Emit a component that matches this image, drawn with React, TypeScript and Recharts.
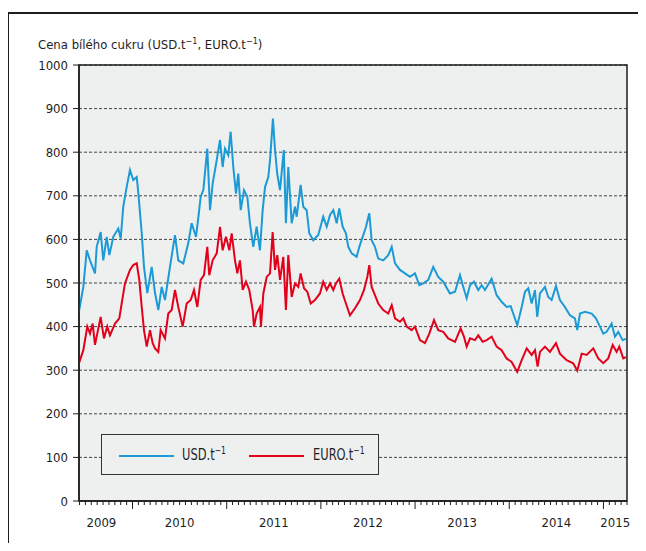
import { LineChart, Line, XAxis, YAxis, CartesianGrid, ReferenceArea, Legend } from "recharts"

const FONT = '"Liberation Sans Narrow", "Arial Narrow", "DejaVu Sans Condensed", "Liberation Sans", Arial, sans-serif'
const INK = "#1e1e1e"
const BLUE = "#1b9ad6"
const RED = "#e3001b"
const PLOT_BG = "#eef0f0"

const X_MIN = 2009.432
const X_MAX = 2015.25
const Y_TICKS = [0, 100, 200, 300, 400, 500, 600, 700, 800, 900, 1000]
const YEAR_LABELS = ["2009", "2010", "2011", "2012", "2013", "2014", "2015"]
const YEAR_LABEL_POS = [2009.67, 2010.5, 2011.5, 2012.5, 2013.5, 2014.5, 2015.125]
const TICKS_PER_YEAR = 16
const SERIES_NAMES = ["USD.t", "EURO.t"]

// USD.t-1, time in fractional years
const USD_T = [
  2009.432, 2009.478, 2009.514, 2009.549, 2009.602, 2009.62, 2009.662, 2009.69, 2009.726, 2009.754,
  2009.796, 2009.849, 2009.875, 2009.902, 2009.938, 2009.973, 2010.008, 2010.045, 2010.062, 2010.098,
  2010.122, 2010.157, 2010.204, 2010.239, 2010.274, 2010.31, 2010.345, 2010.398, 2010.451, 2010.486,
  2010.539, 2010.592, 2010.628, 2010.674, 2010.698, 2010.724, 2010.752, 2010.794, 2010.823, 2010.851,
  2010.894, 2010.929, 2010.957, 2010.982, 2011.017, 2011.042, 2011.07, 2011.099, 2011.123, 2011.149,
  2011.184, 2011.219, 2011.247, 2011.282, 2011.318, 2011.353, 2011.382, 2011.407, 2011.442, 2011.46,
  2011.491, 2011.513, 2011.537, 2011.566, 2011.606, 2011.629, 2011.654, 2011.69, 2011.725, 2011.743,
  2011.785, 2011.813, 2011.849, 2011.877, 2011.919, 2011.972, 2012.025, 2012.062, 2012.097, 2012.132,
  2012.168, 2012.195, 2012.231, 2012.266, 2012.291, 2012.327, 2012.38, 2012.408, 2012.444, 2012.479,
  2012.514, 2012.539, 2012.574, 2012.609, 2012.662, 2012.715, 2012.752, 2012.787, 2012.84, 2012.893,
  2012.946, 2012.999, 2013.045, 2013.087, 2013.14, 2013.193, 2013.246, 2013.299, 2013.37, 2013.424,
  2013.477, 2013.512, 2013.548, 2013.583, 2013.625, 2013.671, 2013.707, 2013.742, 2013.813, 2013.866,
  2013.919, 2013.972, 2014.015, 2014.042, 2014.085, 2014.132, 2014.167, 2014.202, 2014.238, 2014.273,
  2014.297, 2014.326, 2014.379, 2014.414, 2014.45, 2014.496, 2014.538, 2014.591, 2014.644, 2014.697,
  2014.722, 2014.751, 2014.804, 2014.875, 2014.92, 2014.963, 2014.998, 2015.034, 2015.087, 2015.122,
  2015.157, 2015.204, 2015.239,
]
const USD_V = [
  435, 491, 575, 552, 522, 583, 617, 552, 606, 564,
  606, 625, 602, 675, 720, 759, 736, 743, 706, 614,
  537, 477, 537, 477, 438, 491, 461, 537, 610, 552,
  545, 591, 637, 606, 648, 698, 713, 808, 667, 728,
  782, 828, 766, 808, 793, 847, 766, 705, 751, 667,
  713, 698, 637, 583, 629, 575, 667, 720, 743, 782,
  877, 805, 750, 713, 805, 637, 766, 637, 675, 652,
  725, 675, 667, 614, 598, 610, 652, 629, 656, 667,
  637, 671, 629, 614, 583, 568, 560, 583, 606, 629,
  660, 598, 583, 556, 552, 564, 583, 545, 530, 522,
  514, 522, 495, 499, 507, 537, 514, 503, 476, 480,
  518, 491, 465, 495, 503, 484, 495, 484, 510, 472,
  457, 445, 447, 430, 403, 445, 480, 488, 453, 484,
  422, 476, 491, 468, 461, 493, 461, 445, 426, 419,
  392, 430, 434, 430, 419, 400, 384, 388, 407, 377,
  388, 369, 372,
]

// EURO.t-1
const EUR_T = [
  2009.432, 2009.478, 2009.52, 2009.549, 2009.577, 2009.602, 2009.626, 2009.662, 2009.697, 2009.732,
  2009.761, 2009.814, 2009.86, 2009.885, 2009.92, 2009.973, 2010.008, 2010.045, 2010.072, 2010.098,
  2010.122, 2010.151, 2010.186, 2010.214, 2010.239, 2010.274, 2010.299, 2010.345, 2010.38, 2010.416,
  2010.451, 2010.486, 2010.533, 2010.575, 2010.618, 2010.653, 2010.688, 2010.724, 2010.759, 2010.794,
  2010.815, 2010.851, 2010.894, 2010.929, 2010.957, 2010.993, 2011.028, 2011.053, 2011.088, 2011.113,
  2011.141, 2011.17, 2011.205, 2011.24, 2011.276, 2011.29, 2011.318, 2011.353, 2011.364, 2011.389,
  2011.425, 2011.46, 2011.488, 2011.513, 2011.537, 2011.566, 2011.601, 2011.629, 2011.654, 2011.69,
  2011.725, 2011.76, 2011.785, 2011.821, 2011.856, 2011.892, 2011.937, 2011.99, 2012.025, 2012.062,
  2012.097, 2012.132, 2012.16, 2012.195, 2012.231, 2012.266, 2012.309, 2012.362, 2012.415, 2012.458,
  2012.493, 2012.514, 2012.539, 2012.574, 2012.609, 2012.662, 2012.715, 2012.752, 2012.787, 2012.84,
  2012.875, 2012.911, 2012.964, 2012.999, 2013.052, 2013.105, 2013.151, 2013.201, 2013.246, 2013.299,
  2013.352, 2013.424, 2013.484, 2013.519, 2013.548, 2013.583, 2013.636, 2013.671, 2013.718, 2013.76,
  2013.813, 2013.866, 2013.919, 2013.972, 2014.025, 2014.085, 2014.132, 2014.185, 2014.238, 2014.273,
  2014.301, 2014.326, 2014.379, 2014.432, 2014.496, 2014.538, 2014.609, 2014.679, 2014.722, 2014.769,
  2014.822, 2014.892, 2014.945, 2014.998, 2015.051, 2015.098, 2015.14, 2015.168, 2015.21, 2015.239,
]
const EUR_V = [
  316, 346, 400, 384, 407, 358, 384, 422, 373, 400,
  380, 407, 419, 453, 499, 530, 541, 545, 507, 445,
  392, 354, 392, 362, 350, 342, 392, 373, 430, 438,
  484, 445, 400, 453, 461, 484, 445, 507, 518, 583,
  518, 552, 568, 629, 575, 606, 575, 614, 552, 522,
  552, 484, 503, 484, 438, 400, 430, 445, 400, 476,
  514, 522, 617, 530, 564, 507, 560, 438, 564, 468,
  499, 491, 522, 488, 480, 453, 461, 476, 503, 484,
  499, 484, 499, 510, 476, 453, 426, 442, 461, 484,
  514, 541, 491, 472, 453, 438, 430, 449, 419, 411,
  419, 400, 392, 400, 369, 362, 384, 415, 392, 388,
  373, 365, 396, 377, 354, 373, 369, 380, 365, 369,
  377, 354, 346, 327, 319, 296, 323, 350, 335, 346,
  308, 342, 354, 342, 362, 338, 323, 316, 299, 338,
  335, 350, 327, 316, 327, 358, 342, 354, 327, 330,
]

const usdData = USD_T.map((t, i) => ({ t, v: USD_V[i] }))
const eurData = EUR_T.map((t, i) => ({ t, v: EUR_V[i] }))

const xTicks: number[] = []
for (let k = Math.ceil(X_MIN * TICKS_PER_YEAR); k <= Math.floor(X_MAX * TICKS_PER_YEAR + 1e-9); k++) {
  xTicks.push(k / TICKS_PER_YEAR)
}
YEAR_LABEL_POS.forEach((p) => {
  if (!xTicks.some((t) => Math.abs(t - p) < 1e-6)) xTicks.push(p)
})
xTicks.sort((a, b) => a - b)

const near = (a: number, b: number) => Math.abs(a - b) < 1e-6

const XTick = (props: any) => {
  const { x, y, payload } = props
  const v = payload.value as number
  const onGrid = near(v * TICKS_PER_YEAR, Math.round(v * TICKS_PER_YEAR))
  const isYear = near(v, Math.round(v))
  const idx = YEAR_LABEL_POS.findIndex((p) => near(p, v))
  return (
    <g>
      {onGrid && <line x1={x} x2={x} y1={y} y2={y + (isYear ? 8 : 4)} stroke={INK} strokeWidth={1} />}
      {idx >= 0 && (
        <text x={x} y={y + 26} textAnchor="middle" fontFamily={FONT} fontSize={13} fill={INK}>
          {YEAR_LABELS[idx]}
        </text>
      )}
    </g>
  )
}

const LegendBox = ({ payload }: any) => {
  const items = [...(payload || [])].sort(
    (a: any, b: any) => SERIES_NAMES.indexOf(a.value) - SERIES_NAMES.indexOf(b.value)
  )
  const pos = [
    { line: 17, text: 80 },
    { line: 147, text: 211 },
  ]
  return (
    <div
      style={{
        position: "relative",
        width: 278,
        height: 41,
        boxSizing: "border-box",
        border: "1.5px solid #333",
        background: PLOT_BG,
        fontFamily: FONT,
        fontSize: 15,
        color: INK,
      }}
    >
      {items.map((it: any, i: number) => (
        <div key={it.value}>
          <div
            style={{
              position: "absolute",
              left: pos[i].line,
              top: 20,
              width: 55,
              height: 2,
              background: it.color,
            }}
          />
          <div
            style={{
              position: "absolute",
              left: pos[i].text,
              top: 12,
              lineHeight: "16px",
              whiteSpace: "nowrap",
              transform: "scaleX(0.85)",
              transformOrigin: "left center",
            }}
          >
            {it.value}
            <sup style={{ fontSize: 10, lineHeight: 0 }}>−1</sup>
          </div>
        </div>
      ))}
    </div>
  )
}

export default function App() {
  return (
    <div style={{ position: "relative", width: 630, height: 535, fontFamily: FONT }}>
      <div
        style={{
          position: "absolute",
          left: -1,
          top: 4,
          width: 639,
          height: 538,
          boxSizing: "border-box",
          borderTop: `2px solid ${INK}`,
          borderLeft: `2px solid ${INK}`,
        }}
      />
      <div
        style={{
          position: "absolute",
          left: 547,
          top: -23,
          fontSize: 18,
          lineHeight: "18px",
          color: INK,
          fontFamily: FONT,
        }}
      >
        y
      </div>
      <div
        style={{
          position: "absolute",
          left: 30,
          top: 30,
          fontSize: 13,
          lineHeight: "13px",
          whiteSpace: "nowrap",
          color: INK,
          zIndex: 2,
        }}
      >
        Cena bílého cukru (USD.t<sup style={{ fontSize: 9, lineHeight: 0 }}>−1</sup>, EURO.t
        <sup style={{ fontSize: 9, lineHeight: 0 }}>−1</sup>)
      </div>
      <LineChart
        width={630}
        height={535}
        margin={{ top: 57, right: 11, bottom: 12, left: 21 }}
        style={{ position: "absolute", left: 0, top: 0 }}
      >
        <CartesianGrid
          vertical={false}
          horizontalValues={Y_TICKS}
          stroke="#444"
          strokeDasharray="3 2"
          fill={PLOT_BG}
          fillOpacity={1}
        />
        <XAxis
          type="number"
          dataKey="t"
          domain={[X_MIN, X_MAX]}
          allowDataOverflow
          ticks={xTicks}
          interval={0}
          tick={XTick}
          tickLine={false}
          tickSize={0}
          tickMargin={0}
          height={30}
          axisLine={{ stroke: INK, strokeWidth: 1.5 }}
        />
        <YAxis
          type="number"
          domain={[0, 1000]}
          ticks={Y_TICKS}
          interval={0}
          width={50}
          tickSize={6}
          tickMargin={5}
          tick={{ fill: INK, fontSize: 13, fontFamily: FONT }}
          axisLine={{ stroke: INK, strokeWidth: 1.5 }}
          tickLine={{ stroke: INK }}
        />
        <ReferenceArea x1={X_MIN} x2={X_MAX} y1={0} y2={1000} fill="none" stroke={INK} strokeWidth={1.5} ifOverflow="visible" />
        <Line
          data={usdData}
          dataKey="v"
          name="USD.t"
          type="linear"
          stroke={BLUE}
          strokeWidth={2}
          dot={false}
          isAnimationActive={false}
        />
        <Line
          data={eurData}
          dataKey="v"
          name="EURO.t"
          type="linear"
          stroke={RED}
          strokeWidth={2}
          dot={false}
          isAnimationActive={false}
        />
        <Legend
          layout="horizontal"
          verticalAlign="middle"
          content={LegendBox}
          wrapperStyle={{ left: 93, top: 426, width: 278, height: 41 }}
        />
      </LineChart>
    </div>
  )
}
